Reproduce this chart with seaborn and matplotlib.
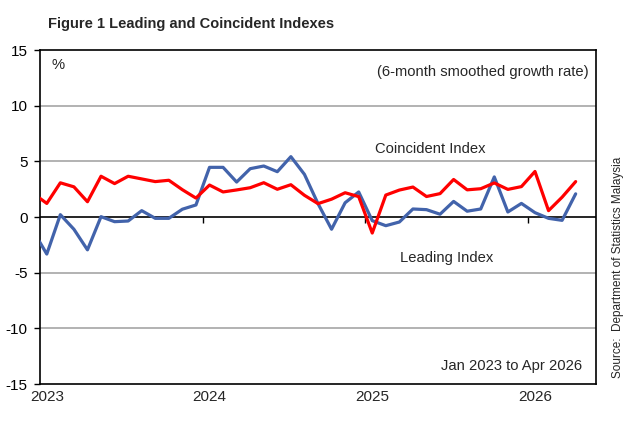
import numpy as np
import pandas as pd
import matplotlib
matplotlib.use("Agg")
import matplotlib.pyplot as plt
import seaborn as sns

# Monthly data, Dec 2022 (clipped at left edge) to Apr 2026
months = pd.date_range("2022-12-01", "2026-04-01", freq="MS").strftime("%b %Y").tolist()
leading = [-1.25, -3.33, 0.21, -1.10, -2.95, 0.03, -0.42, -0.36, 0.57, -0.12, -0.12, 0.70,
           1.08, 4.46, 4.46, 3.14, 4.34, 4.58, 4.07, 5.42, 3.83, 1.20, -1.10, 1.28,
           2.25, -0.33, -0.78, -0.45, 0.72, 0.66, 0.25, 1.40, 0.52, 0.72, 3.60, 0.45,
           1.22, 0.39, -0.12, -0.30, 2.08]
coincident = [2.12, 1.22, 3.07, 2.71, 1.37, 3.66, 3.00, 3.66, 3.42, 3.18, 3.30, 2.45,
              1.70, 2.87, 2.25, 2.43, 2.63, 3.08, 2.49, 2.90, 1.95, 1.20, 1.60, 2.18,
              1.83, -1.44, 1.97, 2.42, 2.69, 1.84, 2.10, 3.37, 2.44, 2.54, 3.06, 2.48,
              2.73, 4.09, 0.57, 1.78, 3.18]
year_labels = ["2023", "2024", "2025", "2026"]
y_ticks = [15, 10, 5, 0, -5, -10, -15]

sns.set_theme(style="white")
plt.rcParams["font.family"] = ["Liberation Sans", "DejaVu Sans"]

pos = np.arange(len(months)) - 1  # Jan 2023 -> 0
df = pd.DataFrame({
    "pos": np.concatenate([pos, pos]),
    "value": leading + coincident,
    "series": ["Leading Index"] * len(pos) + ["Coincident Index"] * len(pos),
})

fig = plt.figure(figsize=(6.4, 4.33), dpi=100)
ax = fig.add_axes([40 / 640, 1 - 384 / 433, (596 - 40) / 640, (384 - 50) / 433])

# gridlines
for v in [10, 5, -5, -10]:
    ax.axhline(v, color="#a6a6a6", lw=1.2, zorder=1)
ax.axhline(0, color="black", lw=1.2, zorder=2)

sns.lineplot(data=df, x="pos", y="value", hue="series",
             palette={"Leading Index": "#4263ab", "Coincident Index": "#ff0000"},
             hue_order=["Leading Index", "Coincident Index"],
             linewidth=2.3, legend=False, ax=ax, zorder=3)

ax.set_xlim(-0.5, 40.5)
ax.set_ylim(-15, 15)
ax.set_xlabel("")
ax.set_ylabel("")

# y axis
ax.set_yticks(y_ticks)
ax.set_yticklabels([str(t) for t in y_ticks], fontsize=11)
ax.tick_params(axis="y", direction="out", length=4, width=1, pad=5, left=True, colors="black")

# spines / box
for s in ["left", "right", "top"]:
    ax.spines[s].set_color("black")
    ax.spines[s].set_linewidth(1.2)
ax.spines["bottom"].set_position(("data", 0))
ax.spines["bottom"].set_visible(False)

# x tick marks on zero line (between years), no labels
ax.set_xticks([11.5, 23.5, 35.5])
ax.set_xticklabels([])
ax.tick_params(axis="x", direction="out", length=4, width=1, bottom=True, colors="black")
ax.xaxis.set_ticks_position("bottom")

# secondary axis at the bottom for year labels
sec = ax.secondary_xaxis(0.0)
sec.set_xticks([0, 12, 24, 36])
sec.set_xticklabels(year_labels, fontsize=11)
sec.tick_params(axis="x", length=0, pad=4)
sec.spines["bottom"].set_color("black")
sec.spines["bottom"].set_linewidth(1.2)

# annotations
lab_fs = 10.6
ax.text(0.021, 0.955, "%", transform=ax.transAxes, fontsize=lab_fs, va="center", ha="left")
ax.text(0.987, 0.935, "(6-month smoothed growth rate)", transform=ax.transAxes,
        fontsize=lab_fs, va="center", ha="right")
ax.text(28.3, 6.1, "Coincident Index", fontsize=lab_fs, va="center", ha="center")
ax.text(29.5, -3.65, "Leading Index", fontsize=lab_fs, va="center", ha="center")
ax.text(0.975, 0.055, "Jan 2023 to Apr 2026", transform=ax.transAxes,
        fontsize=lab_fs, va="center", ha="right")

fig.text(48 / 640, 1 - 24 / 433, "Figure 1 Leading and Coincident Indexes",
         fontsize=10.5, fontweight="bold", va="center", ha="left")
fig.text(618 / 640, 1 - 378 / 433, "Source:  Department of Statistics Malaysia",
         fontsize=8.5, rotation=90, va="bottom", ha="center")

fig.savefig("out.png", dpi=100)
